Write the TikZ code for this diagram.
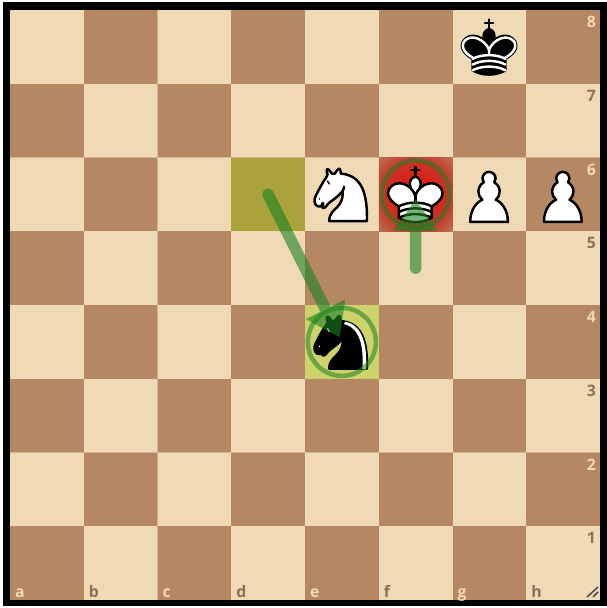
\documentclass[tikz,border=0pt]{standalone}
\usepackage{fontspec}
\setsansfont{Open Sans}
\usepackage{xcolor}
\usetikzlibrary{arrows.meta,calc}
\definecolor{sqlightc}{RGB}{240,217,181}
\definecolor{sqdarkc}{RGB}{181,136,99}
\definecolor{sqseam}{RGB}{215,180,145}
\definecolor{lblonlight}{RGB}{140,113,88}
\definecolor{moveolive}{RGB}{170,162,58}
\definecolor{movelime}{RGB}{205,210,106}
\definecolor{markgreen}{RGB}{25,130,35}
\definecolor{checkA}{RGB}{240,20,15}
\definecolor{checkB}{RGB}{222,30,20}
\definecolor{checkC}{RGB}{200,52,38}
\definecolor{checkD}{RGB}{187,97,70}
\pgfdeclareradialshading{checkglow}{\pgfpoint{0bp}{0bp}}{%
  color(0bp)=(checkA); color(10bp)=(checkB); color(22bp)=(checkC);
  color(32bp)=(checkD); color(42bp)=(sqdarkc); color(50bp)=(sqdarkc)}
\tikzset{
  sqlight/.style={minimum size=1.475cm, inner sep=0pt, fill=sqlightc},
  sqdark/.style={minimum size=1.475cm, inner sep=0pt, fill=sqdarkc},
  fromsq/.style={minimum size=1.475cm, inner sep=0pt, fill=moveolive},
  tosq/.style={minimum size=1.475cm, inner sep=0pt, fill=movelime},
  checksq/.style={minimum size=1.475cm, inner sep=0pt, shading=checkglow},
  ringmark/.style={circle, draw=markgreen, draw opacity=0.55, line width=0.09cm, minimum size=1.36cm, inner sep=0pt},
  movearrow/.style={-{Triangle[length=0.63cm, width=0.84cm]}, draw=markgreen, fill=markgreen, line width=0.23cm, line cap=round, shorten >=0.1cm},
  coordlbl/.style={inner sep=0pt, font=\sffamily\bfseries\fontsize{9}{10}\selectfont},
  piece/.style={line width=0.0492cm, line join=round, line cap=round},
  pics/wpawn/.style={code={
    \draw[piece, fill=white] (22.5,9) .. controls (20.29,9) and (18.5,10.79) .. (18.5,13) .. controls (18.5,13.89) and (18.79,14.71) .. (19.28,15.38) .. controls (17.33,16.5) and (16,18.59) .. (16,21) .. controls (16,23.03) and (16.94,24.84) .. (18.41,26.03) .. controls (15.41,27.09) and (11,31.58) .. (11,39.5) -- (34,39.5) .. controls (34,31.58) and (29.59,27.09) .. (26.59,26.03) .. controls (28.06,24.84) and (29,23.03) .. (29,21) .. controls (29,18.59) and (27.67,16.5) .. (25.72,15.38) .. controls (26.21,14.71) and (26.5,13.89) .. (26.5,13) .. controls (26.5,10.79) and (24.71,9) .. (22.5,9) -- cycle;
  }},
  pics/wknight/.style={code={
    \kbody{white}{black}
    \fill[black] (9,25.5) circle[radius=0.5];
    \fill[black, rotate around={30:(14.5,15.5)}] (14.5,15.5) ellipse[x radius=0.5, y radius=1.5];
  }},
  pics/bknight/.style={code={
    \kbody{black}{black}
    \fill[white] (9,25.5) circle[radius=0.5];
    \fill[white, rotate around={30:(14.5,15.5)}] (14.5,15.5) ellipse[x radius=0.5, y radius=1.5];
    \fill[white] (24.55,10.4) -- (24.1,11.85) -- (24.6,12) .. controls (27.75,13) and (30.25,14.49) .. (32.5,18.75) .. controls (34.75,23.01) and (35.75,29.06) .. (35.25,39) -- (35.2,39.5) -- (37.45,39.5) -- (37.5,39) .. controls (38,28.94) and (36.62,22.15) .. (34.25,17.66) .. controls (31.88,13.17) and (28.46,11.02) .. (25.06,10.5) -- cycle;
  }},
  pics/wking/.style={code={
    \kbase{white}{black}
    \draw[piece] (22.5,23.5) -- (22.5,27);
    \kbands{black}
  }},
  pics/bking/.style={code={
    \kbase{black}{black}
    \draw[piece, white] (32,29.5) .. controls (32,29.5) and (40.5,25.5) .. (38.03,19.85) .. controls (34.15,14) and (25,18) .. (22.5,24.5) -- (22.5,26.6) -- (22.5,24.5) .. controls (20,18) and (10.85,14) .. (6.97,19.85) .. controls (4.5,25.5) and (13,29.5) .. (13,29.5);
    \kbands{white}
  }},
}
\newcommand{\kbody}[2]{%
  \draw[piece, fill=#1, draw=#2] (22,10) .. controls (32.5,11) and (38.5,18) .. (38,39) -- (15,39) .. controls (15,30) and (25,32.5) .. (23,18);
  \draw[piece, fill=#1, draw=#2] (24,18) .. controls (24.38,20.91) and (18.45,25.37) .. (16,27) .. controls (13,29) and (13.18,31.34) .. (11,31) .. controls (9.958,30.06) and (12.41,27.96) .. (11,28) .. controls (10,28) and (11.19,29.23) .. (10,30) .. controls (9,30) and (5.997,31) .. (6,26) .. controls (6,24) and (12,14) .. (12,14) .. controls (12,14) and (13.89,12.1) .. (14,10.5) .. controls (13.27,9.506) and (13.5,8.5) .. (13.5,7.5) .. controls (14.5,6.5) and (16.5,10) .. (16.5,10) -- (18.5,10) .. controls (18.5,10) and (19.28,8.008) .. (21,7) .. controls (22,7) and (22,10) .. (22,10);
}
\newcommand{\kbase}[2]{%
  \draw[piece, draw=#2] (22.5,11.63) -- (22.5,6) (20,8) -- (25,8);
  \draw[piece, fill=#1, draw=#2] (22.5,25) .. controls (22.5,25) and (27,17.5) .. (25.5,14.5) .. controls (25.5,14.5) and (24.5,12) .. (22.5,12) .. controls (20.5,12) and (19.5,14.5) .. (19.5,14.5) .. controls (18,17.5) and (22.5,25) .. (22.5,25);
  \draw[piece, fill=#1, draw=#2] (12.5,37) .. controls (18,40.5) and (27,40.5) .. (32.5,37) -- (32.5,30) .. controls (32.5,30) and (41.5,25.5) .. (38.5,19.5) .. controls (34.5,13) and (25,16) .. (22.5,23.5) .. controls (20,16) and (10.5,13) .. (6.5,19.5) .. controls (3.5,25.5) and (12.5,30) .. (12.5,30) -- cycle;
}
\newcommand{\kbands}[1]{%
  \draw[piece, draw=#1] (12.5,30) .. controls (18,27) and (27,27) .. (32.5,30);
  \draw[piece, draw=#1] (12.5,33.5) .. controls (18,30.5) and (27,30.5) .. (32.5,33.5);
  \draw[piece, draw=#1] (12.5,37) .. controls (18,34) and (27,34) .. (32.5,37);
}

\begin{document}
\begin{tikzpicture}[x=0.02cm, y=-0.02cm]
\useasboundingbox (0,0) rectangle (607,608);
% --- frame ---
\fill[black] (3,2) rectangle (607,606);
\fill[sqseam] (10,10) rectangle (600,600);
% --- squares ---
\foreach \fl [count=\i from 0] in {a,b,c,d,e,f,g,h} {
  \foreach \rk in {1,...,8} {
    \pgfmathtruncatemacro{\sqpar}{mod(\i+\rk,2)}
    \ifnum\sqpar=1 \def\sqstyle{sqdark}\else \def\sqstyle{sqlight}\fi
    \node[\sqstyle] (\fl\rk) at ({46.875+73.75*\i},{600-73.75*\rk+36.875}) {};
  }
}
% --- last move and check ---
\node[fromsq] (d6mark) at (d6) {};
\node[tosq] (e4mark) at (e4) {};
\node[checksq] (f6mark) at (f6) {};
% --- coordinates ---
\foreach \fl/\lc in {a/sqlightc,b/lblonlight,c/sqlightc,d/lblonlight,e/sqlightc,f/lblonlight,g/sqlightc,h/lblonlight} {
  \node[coordlbl, anchor=base west, text=\lc] (lbl\fl) at ($(\fl1.south west)+(5,-3)$) {\fl};
}
\foreach \rk/\lc in {1/lblonlight,2/sqlightc,3/lblonlight,4/sqlightc,5/lblonlight,6/sqlightc,7/lblonlight,8/sqlightc} {
  \node[coordlbl, anchor=base east, text=\lc] (lbl\rk) at ($(h\rk.north east)+(-4,18)$) {\rk};
}
% --- pieces ---
\pic[scale=1.639] at (g8.north west) {bking};
\pic[scale=1.639] at (e6.north west) {wknight};
\pic[scale=1.639] at (f6.north west) {wking};
\pic[scale=1.639] at (g6.north west) {wpawn};
\pic[scale=1.639] at (h6.north west) {wpawn};
\pic[scale=1.639] at (e4.north west) {bknight};
% --- rings ---
\node[ringmark] (e4ring) at (e4) {};
\node[ringmark] (f6ring) at (f6) {};
% --- arrows ---
\begin{scope}[transparency group, opacity=0.6]
\draw[movearrow] (d6.center) -- (e4.center);
\end{scope}
\begin{scope}[transparency group, opacity=0.6]
\draw[movearrow] (f5.center) -- (f6.center);
\end{scope}
% --- resize grip ---
\draw[gray!60!black, line width=0.03cm] (587,597) -- (598,587) (593,597) -- (598,592);
\end{tikzpicture}
\end{document}
